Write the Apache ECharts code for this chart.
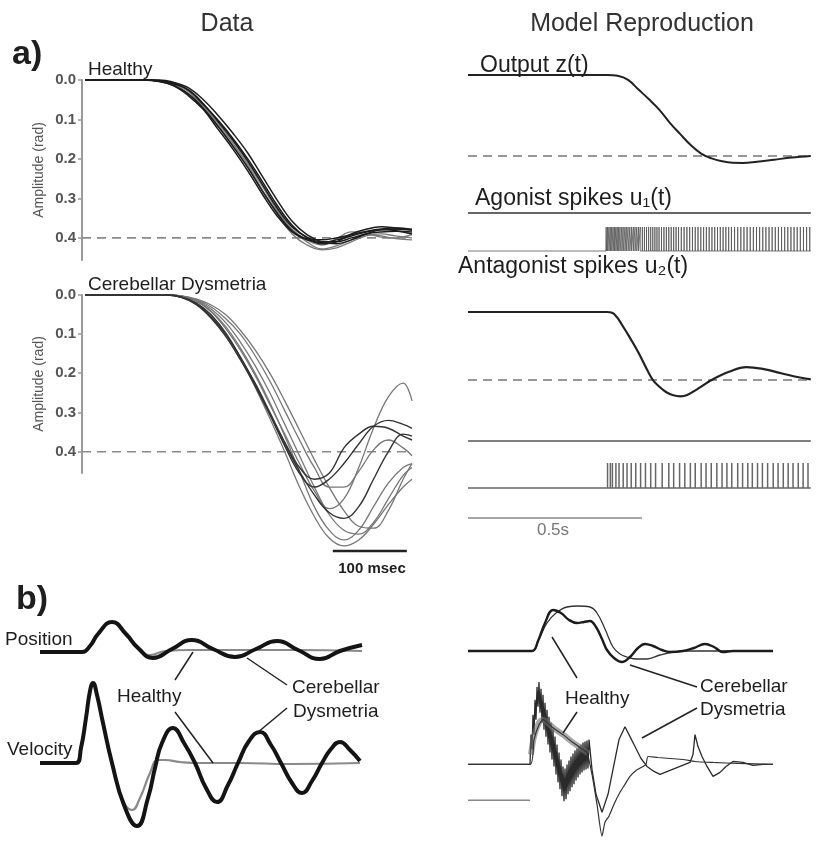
<!DOCTYPE html>
<html>
<head>
<meta charset="utf-8">
<title>Dysmetria: data and model</title>
<script src="https://cdn.jsdelivr.net/npm/echarts@6.0.0/dist/echarts.min.js"></script>
<style>
  html, body { margin: 0; padding: 0; background: #fff; }
  #chart { width: 816px; height: 844px; }
</style>
</head>
<body>
<div id="chart"></div>
<script>
// ---- panel a, data (time in ms, amplitude in rad) ----
const ampTicks = [0, 0.1, 0.2, 0.3, 0.4];
const targetAmp = 0.4;

const tHealthy = [0, 80, 100, 120, 140, 160, 180, 200, 220, 240, 260, 280, 300, 320, 340, 360, 380, 400, 420, 442];
const healthyBlack = [
  [0, 0, 0.002, 0.01, 0.025, 0.06, 0.105, 0.152, 0.205, 0.265, 0.325, 0.372, 0.398, 0.41, 0.41, 0.40, 0.39, 0.385, 0.383, 0.385],
  [0, 0, 0.004, 0.015, 0.04, 0.075, 0.125, 0.175, 0.23, 0.29, 0.345, 0.385, 0.405, 0.412, 0.405, 0.395, 0.385, 0.38, 0.378, 0.38],
  [0, 0, 0, 0.006, 0.02, 0.05, 0.09, 0.135, 0.185, 0.245, 0.305, 0.358, 0.392, 0.41, 0.415, 0.405, 0.39, 0.378, 0.375, 0.378],
  [0, 0, 0.001, 0.008, 0.026, 0.062, 0.102, 0.148, 0.2, 0.258, 0.318, 0.368, 0.4, 0.415, 0.41, 0.39, 0.378, 0.372, 0.375, 0.38],
  [0, 0, 0.003, 0.014, 0.036, 0.072, 0.118, 0.168, 0.222, 0.282, 0.338, 0.382, 0.402, 0.405, 0.4, 0.392, 0.384, 0.378, 0.382, 0.39]
];
const healthyGray = [
  [0, 0, 0.002, 0.01, 0.028, 0.065, 0.11, 0.16, 0.215, 0.28, 0.34, 0.39, 0.418, 0.43, 0.425, 0.41, 0.395, 0.39, 0.395, 0.4],
  [0, 0, 0.003, 0.012, 0.035, 0.07, 0.115, 0.165, 0.22, 0.28, 0.335, 0.38, 0.41, 0.428, 0.42, 0.405, 0.392, 0.395, 0.402, 0.405],
  [0, 0, 0.002, 0.01, 0.03, 0.068, 0.108, 0.155, 0.21, 0.27, 0.33, 0.378, 0.405, 0.418, 0.402, 0.385, 0.388, 0.398, 0.4, 0.392]
];

const tDysm = [0, 80, 110, 130, 150, 170, 190, 210, 230, 250, 270, 290, 310, 330, 350, 370, 390, 410, 430, 442];
const dysmGray = [
  [0, 0, 0, 0.005, 0.02, 0.05, 0.095, 0.16, 0.235, 0.315, 0.4, 0.49, 0.565, 0.62, 0.64, 0.625, 0.585, 0.535, 0.49, 0.47],
  [0, 0, 0, 0.003, 0.015, 0.04, 0.08, 0.135, 0.2, 0.275, 0.36, 0.45, 0.54, 0.6, 0.625, 0.6, 0.54, 0.48, 0.44, 0.43],
  [0, 0, 0, 0.003, 0.016, 0.042, 0.085, 0.14, 0.205, 0.28, 0.355, 0.43, 0.5, 0.545, 0.52, 0.44, 0.34, 0.26, 0.225, 0.27],
  [0, 0, 0, 0.002, 0.01, 0.025, 0.05, 0.09, 0.14, 0.2, 0.27, 0.345, 0.42, 0.49, 0.55, 0.59, 0.595, 0.55, 0.47, 0.43],
  [0, 0, 0, 0.002, 0.012, 0.03, 0.06, 0.1, 0.155, 0.22, 0.295, 0.37, 0.44, 0.49, 0.49, 0.45, 0.395, 0.37, 0.39, 0.41],
  [0, 0, 0, 0.003, 0.013, 0.035, 0.07, 0.12, 0.18, 0.25, 0.33, 0.41, 0.49, 0.56, 0.6, 0.61, 0.58, 0.52, 0.46, 0.44]
];
const dysmDark = [
  [0, 0, 0, 0.005, 0.022, 0.055, 0.1, 0.16, 0.225, 0.3, 0.375, 0.44, 0.47, 0.455, 0.39, 0.355, 0.335, 0.34, 0.36, 0.37],
  [0, 0, 0, 0.006, 0.024, 0.058, 0.105, 0.165, 0.232, 0.305, 0.38, 0.45, 0.51, 0.555, 0.57, 0.54, 0.47, 0.4, 0.355, 0.36],
  [0, 0, 0, 0.005, 0.02, 0.05, 0.098, 0.158, 0.228, 0.305, 0.385, 0.455, 0.49, 0.47, 0.43, 0.38, 0.335, 0.32, 0.33, 0.34]
];
const msecBar = [335, 435];

// ---- panel a, model (time in s) ----
const tOutHealthy = [0, 0.40, 0.43, 0.46, 0.49, 0.52, 0.55, 0.58, 0.61, 0.64, 0.67, 0.70, 0.73, 0.76, 0.79, 0.83, 0.88, 0.93, 0.985];
const outHealthy  = [0, 0, 0.01, 0.06, 0.18, 0.3, 0.43, 0.59, 0.73, 0.865, 0.97, 1.03, 1.065, 1.083, 1.085, 1.07, 1.045, 1.02, 1.0];
const tOutDysm = [0, 0.40, 0.42, 0.45, 0.47, 0.49, 0.51, 0.53, 0.55, 0.57, 0.59, 0.61, 0.63, 0.66, 0.70, 0.75, 0.80, 0.85, 0.90, 0.95, 0.985];
const outDysm  = [0, 0, 0.03, 0.25, 0.42, 0.6, 0.8, 0.99, 1.1, 1.18, 1.225, 1.24, 1.22, 1.13, 1.0, 0.88, 0.81, 0.84, 0.9, 0.96, 0.99];
const modelEnd = 0.985;
const healthyTrainTop = [];
const healthyTrainBottom = [397, 401, 405, 409, 413, 417, 421, 425, 429, 433, 437, 442, 446, 451, 455, 460, 465, 470, 475, 480,
  485, 490, 495, 501, 507, 513, 519, 525, 531, 537, 543, 549, 556, 563, 570, 577, 584, 591, 598, 605, 613, 621, 629, 637,
  645, 653, 661, 669, 677, 685, 693, 701, 709, 717, 725, 733, 741, 749, 757, 766, 775, 784, 793, 802, 811, 820, 829, 838,
  847, 856, 865, 874, 883, 892, 901, 910, 919, 928, 937, 946, 955, 964, 973, 982];
const dysmTrainTop = [];
const dysmTrainBottom = [401, 409, 415, 425, 434, 446, 457, 469, 482, 496, 510, 525, 539, 558, 577, 591, 608, 623, 639, 653,
  670, 684, 699, 715, 730, 744, 758, 775, 789, 804, 817, 832, 846, 861, 877, 891, 906, 920, 934, 949, 963, 977];
const secBar = [0, 0.5];

// ---- panel b, data (time in a.u.) ----
const tPosDysmL = [0, 42, 50, 58, 72, 86, 98, 113, 132, 152, 173, 195, 216, 237, 258, 280, 300, 322];
const posDysmL  = [0, 0, 6, 18, 30, 18, 4, -6, 3, 12, 3, -5, 3, 11, 2, -7, 1, 7];
const tPosHealthyL = [0, 42, 50, 58, 72, 86, 98, 110, 125, 150, 200, 250, 322];
const posHealthyL  = [0, 0, 6, 17, 29, 18, 5, -3, 1, 2, 2, 2, 1];
const tVelDysmL = [0, 36, 41, 46, 50, 53, 57, 63, 72, 84, 97, 108, 115, 122, 133, 144, 155, 166, 177, 188, 198, 209, 220, 231, 241, 252, 262, 272, 282, 291, 300, 310, 320];
const velDysmL  = [0, 0, 15, 45, 72, 80, 68, 40, 0, -42, -63, -35, -5, 20, 35, 20, 0, -25, -39, -22, 0, 22, 31, 18, 0, -20, -30, -18, 0, 14, 21, 13, 2];
const tVelHealthyL = [0, 36, 41, 46, 50, 53, 57, 63, 72, 82, 92, 100, 110, 118, 125, 140, 160, 200, 250, 320];
const velHealthyL  = [0, 0, 15, 45, 72, 80, 68, 40, 0, -35, -47, -35, -10, 3, 3, 1, 0, 0, -1, 0];

// ---- panel b, model ----
const posDysmR = [[0, 0], [64, 0], [70, 10], [77, 28], [85, 41], [93, 38], [101, 31], [109, 28], [116, 29], [122, 30], [128, 24],
  [134, 12], [139, 1], [146, -7], [154, -11], [162, -6], [170, 3], [177, 7], [185, 5], [194, 1], [202, -1], [215, 0], [226, 3],
  [237, 7], [246, 4], [255, -1], [265, 0], [305, 0]];
const posHealthyR = [[0, 0], [64, 0], [71, 12], [79, 28], [88, 38], [99, 44], [110, 45], [122, 44], [129, 38], [137, 22], [145, 4],
  [152, -3], [159, -6], [169, -8], [179, -8], [192, -4], [205, -1], [220, 0], [305, 0]];
const velDysmR = [[0, 0], [62, 0], [63, 30], [64, 15], [65, 50], [66, 30], [67, 65], [68, 45], [69, 78], [70, 58], [71, 83], [72, 52],
  [73, 76], [74, 42], [75, 70], [76, 35], [77, 62], [78, 28], [79, 55], [80, 20], [81, 48], [82, 12], [83, 42], [84, 5], [85, 36],
  [86, -2], [87, 28], [88, -10], [89, 20], [90, -18], [91, 12], [92, -25], [93, 5], [94, -32], [95, -2], [96, -37], [97, -4], [98, -35],
  [99, 0], [100, -30], [101, 4], [102, -27], [103, 8], [104, -23], [105, 11], [106, -20], [107, 14], [108, -16], [109, 16], [110, -13],
  [111, 18], [112, -10], [113, 20], [114, -8], [115, 22], [116, -6], [117, 23], [118, -5], [119, 24], [120, -4], [121, 25],
  [124, -5], [128, -30], [134, -48], [140, -30], [145, -5], [151, 25], [157, 38], [162, 28], [167, 18], [173, 6], [179, -2],
  [186, -7], [192, -10], [202, -6], [212, -2], [222, 2], [225, 10], [227, 30], [230, 18], [234, 8], [239, -2], [245, -12],
  [252, -8], [258, -2], [265, 3], [275, 2], [285, -1], [295, 0], [305, 0]];
const velHealthyR = [[0, 0], [62, 0], [66, 25], [71, 40], [75, 45], [85, 37], [95, 30], [105, 22], [115, 15], [119, 12], [124, -10],
  [129, -40], [134, -72], [137, -58], [141, -52], [146, -40], [152, -28], [157, -20], [162, -12], [168, -6], [175, -2], [178, 0],
  [180, 8], [190, 7], [202, 6], [215, 5], [227, 3], [245, 2], [270, 1], [305, 0]];
const velHealthyBandR = [[63, 10], [66, 28], [71, 42], [75, 45], [85, 37], [95, 30], [105, 22], [115, 15], [120, 11]];
const velBarR = [0, 62];
const velBarLevel = -36;

const FONT = 'Liberation Sans, Arial, Helvetica, sans-serif';

function pairs(ts, vs) { return ts.map((t, i) => [t, vs[i]]); }
function spikes(ms, end) {
  const d = [[0, 0]];
  ms.forEach(m => { const s = m / 1000; d.push([s, 0], [s, 1], [s, 0]); });
  d.push([end, 0]);
  return d;
}
function hx(g, min, max) { return { type: 'value', gridIndex: g, min: min, max: max, show: false }; }
function hy(g, min, max, inv) { return { type: 'value', gridIndex: g, min: min, max: max, inverse: !!inv, show: false }; }
function line(g, data, color, width, extra) {
  return Object.assign({
    type: 'line', xAxisIndex: g, yAxisIndex: g, data: data, showSymbol: false, symbol: 'none',
    lineStyle: { color: color, width: width }, silent: true, clip: false
  }, extra || {});
}
function ampAxis(g, max) {
  return {
    type: 'value', gridIndex: g, min: 0, max: max, inverse: true,
    axisLine: { show: true, onZero: false, lineStyle: { color: '#9a9a9a', width: 2 } },
    axisTick: { show: true, length: 4, customValues: ampTicks, lineStyle: { color: '#9a9a9a', width: 1.5 } },
    axisLabel: { customValues: ampTicks, formatter: v => v.toFixed(1), color: '#555', fontWeight: 'bold',
      fontSize: 15, margin: 6, fontFamily: FONT },
    splitLine: { show: false },
    name: 'Amplitude (rad)', nameLocation: 'middle', nameGap: 36, nameRotate: 90,
    nameTextStyle: { color: '#555', fontSize: 14, fontFamily: FONT }
  };
}

const grids = [
  { left: 82, top: 80, width: 330, height: 180 },    // 0 healthy data
  { left: 82, top: 295, width: 330, height: 178 },   // 1 dysmetria axis
  { left: 82, top: 295, width: 330, height: 263 },   // 2 dysmetria data
  { left: 468, top: 75, width: 350, height: 97.2 },  // 3 model output healthy
  { left: 468, top: 189, width: 350, height: 24 },   // 4 train
  { left: 468, top: 227, width: 350, height: 24 },   // 5 train
  { left: 468, top: 312, width: 350, height: 95.2 }, // 6 model output dysmetria
  { left: 468, top: 417, width: 350, height: 24 },   // 7 train
  { left: 468, top: 463, width: 350, height: 25 },   // 8 train
  { left: 468, top: 508, width: 350, height: 20 },   // 9 0.5 s bar
  { left: 40, top: 615, width: 322, height: 50 },    // 10 position data
  { left: 40, top: 675, width: 322, height: 160 },   // 11 velocity data
  { left: 468, top: 595, width: 310, height: 75 },   // 12 position model
  { left: 468, top: 670, width: 310, height: 175 }   // 13 velocity model
];

const xAxes = [
  hx(0, -4, 442), hx(1, -4, 442), hx(2, -4, 442),
  hx(3, 0, 1), hx(4, 0, 1), hx(5, 0, 1), hx(6, 0, 1), hx(7, 0, 1), hx(8, 0, 1), hx(9, 0, 1),
  hx(10, 0, 322), hx(11, 0, 322), hx(12, 0, 310), hx(13, 0, 310)
];
const yAxes = [
  ampAxis(0, 0.456), ampAxis(1, 0.455), hy(2, 0, 0.671, true),
  hy(3, 0, 1.2, true), hy(4, 0, 1), hy(5, 0, 1), hy(6, 0, 1.4, true), hy(7, 0, 1), hy(8, 0, 1), hy(9, 0, 1),
  hy(10, -13, 37), hy(11, -72, 88), hy(12, -19, 56), hy(13, -80, 95)
];

const dash = { type: [9, 6] };
const series = [];
// panel a, data
series.push(line(0, [[-4, targetAmp], [442, targetAmp]], '#8a8a8a', 1.6, { lineStyle: Object.assign({ color: '#8a8a8a', width: 1.6 }, dash) }));
healthyGray.forEach(v => series.push(line(0, pairs(tHealthy, v), '#7a7a7a', 1.3, { smooth: 0.4 })));
healthyBlack.forEach(v => series.push(line(0, pairs(tHealthy, v), '#1c1c1c', 1.5, { smooth: 0.4 })));
series.push(line(2, [[-4, targetAmp], [442, targetAmp]], '#8a8a8a', 1.6, { lineStyle: Object.assign({ color: '#8a8a8a', width: 1.6 }, dash) }));
dysmGray.forEach(v => series.push(line(2, pairs(tDysm, v), '#777', 1.3, { smooth: 0.4 })));
dysmDark.forEach(v => series.push(line(2, pairs(tDysm, v), '#333', 1.4, { smooth: 0.4 })));
series.push(line(2, [[msecBar[0], 0.653], [msecBar[1], 0.653]], '#222', 2.5));
// panel a, model
series.push(line(3, [[0, 1], [modelEnd, 1]], '#777', 1.5, { lineStyle: Object.assign({ color: '#777', width: 1.5 }, dash) }));
series.push(line(3, pairs(tOutHealthy, outHealthy), '#222', 2, { smooth: 0.4 }));
series.push(line(4, spikes(healthyTrainTop, modelEnd), '#333', 1.4));
series.push(line(5, spikes(healthyTrainBottom, modelEnd), '#555', 0.8));
series.push(line(6, [[0, 1], [modelEnd, 1]], '#777', 1.5, { lineStyle: Object.assign({ color: '#777', width: 1.5 }, dash) }));
series.push(line(6, pairs(tOutDysm, outDysm), '#222', 2.2, { smooth: 0.4 }));
series.push(line(7, spikes(dysmTrainTop, modelEnd), '#555', 1.4));
series.push(line(8, spikes(dysmTrainBottom, modelEnd), '#666', 1.5));
series.push(line(9, [[secBar[0], 0.5], [secBar[1], 0.5]], '#888', 1.6));
// panel b, data
series.push(line(10, pairs(tPosHealthyL, posHealthyL), '#8a8a8a', 2.2, { smooth: 0.5 }));
series.push(line(10, pairs(tPosDysmL, posDysmL), '#141414', 4, { smooth: 0.5 }));
series.push(line(11, pairs(tVelHealthyL, velHealthyL), '#8a8a8a', 2.2, { smooth: 0.5 }));
series.push(line(11, pairs(tVelDysmL, velDysmL), '#141414', 4, { smooth: 0.5 }));
// panel b, model
series.push(line(12, posHealthyR, '#333', 1.3, { smooth: 0.4 }));
series.push(line(12, posDysmR, '#1c1c1c', 2.4, { smooth: 0.4 }));
series.push(line(13, velDysmR, '#2a2a2a', 1.3));
series.push(line(13, velHealthyBandR, 'rgba(110,110,110,0.6)', 6, { smooth: 0.3 }));
series.push(line(13, velHealthyR, '#333', 1.2, { smooth: 0.2 }));
series.push(line(13, [[velBarR[0], velBarLevel], [velBarR[1], velBarLevel]], '#888', 1.6));

function txt(x, y, text, size, opts) {
  return { type: 'text', x: x, y: y, silent: true, z: 10,
    style: Object.assign({ text: text, fontSize: size, fontFamily: FONT, fill: '#1e1e1e', align: 'left', verticalAlign: 'middle' }, opts || {}) };
}
function seg(x1, y1, x2, y2) {
  return { type: 'line', silent: true, z: 10, shape: { x1: x1, y1: y1, x2: x2, y2: y2 }, style: { stroke: '#222', lineWidth: 1.5 } };
}

const graphic = [
  txt(227, 24, 'Data', 25, { align: 'center', fill: '#333' }),
  txt(642, 24, 'Model Reproduction', 25, { align: 'center', fill: '#333' }),
  txt(12, 55, 'a)', 34, { fontWeight: 'bold' }),
  txt(16, 600, 'b)', 34, { fontWeight: 'bold' }),
  txt(88, 70, 'Healthy', 19),
  txt(88, 285, 'Cerebellar Dysmetria', 19),
  txt(372, 569, '100 msec', 15, { align: 'center', fontWeight: 'bold' }),
  txt(480, 66, 'Output z(t)', 23),
  txt(475, 199, 'Agonist spikes u\u2081(t)', 23),
  txt(458, 267, 'Antagonist spikes u\u2082(t)', 23),
  txt(553, 530, '0.5s', 17, { align: 'center', fill: '#777' }),
  txt(5, 640, 'Position', 19),
  txt(7, 750, 'Velocity', 19),
  txt(117, 697, 'Healthy', 19),
  txt(292, 688, 'Cerebellar', 19),
  txt(293, 712, 'Dysmetria', 19),
  txt(565, 699, 'Healthy', 19),
  txt(700, 687, 'Cerebellar', 19),
  txt(700, 710, 'Dysmetria', 19),
  seg(175, 680, 193, 652), seg(175, 712, 213, 763),
  seg(287, 685, 247, 658), seg(287, 708, 257, 733),
  seg(577, 678, 552, 637), seg(577, 712, 563, 733),
  seg(697, 687, 630, 665), seg(697, 708, 642, 738)
];

const chart = echarts.init(document.getElementById('chart'), null, { renderer: 'canvas' });
chart.setOption({
  animation: false,
  backgroundColor: '#fff',
  grid: grids,
  xAxis: xAxes,
  yAxis: yAxes,
  series: series,
  graphic: graphic
});
window.addEventListener('resize', function () { chart.resize(); });
</script>
</body>
</html>
